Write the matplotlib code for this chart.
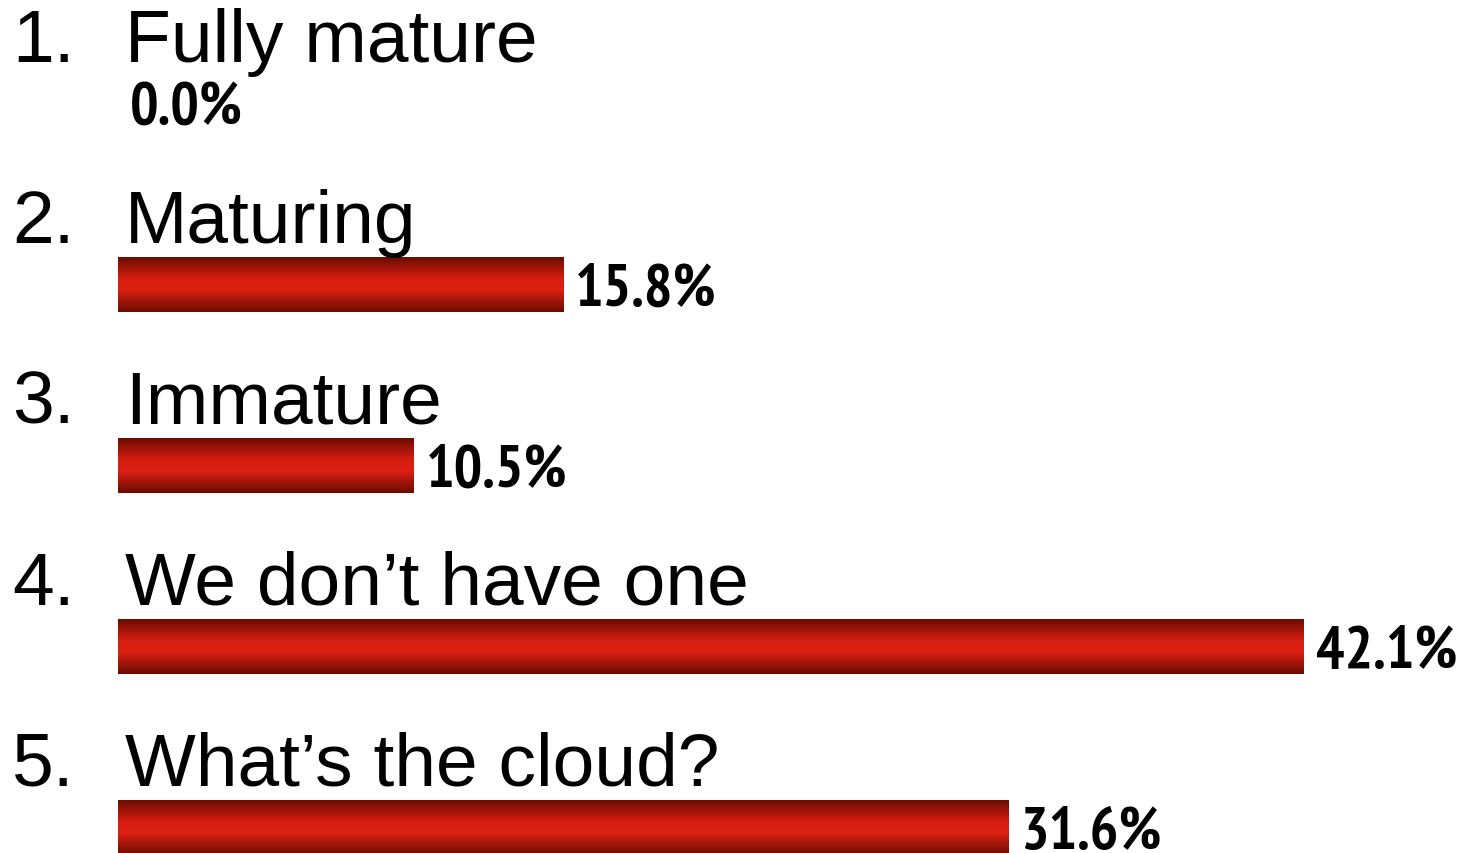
import numpy as np
import matplotlib
matplotlib.use("Agg")
import matplotlib.pyplot as plt
from matplotlib.colors import LinearSegmentedColormap
from matplotlib import font_manager

# Survey answers and their shares (percent)
categories = ["Fully mature", "Maturing", "Immature", "We don\u2019t have one", "What\u2019s the cloud?"]
numbers = ["1.", "2.", "3.", "4.", "5."]
values = [0.0, 15.8, 10.5, 42.1, 31.6]
value_labels = ["0.0%", "15.8%", "10.5%", "42.1%", "31.6%"]

W, H, DPI = 1458, 854, 100
fig = plt.figure(figsize=(W / DPI, H / DPI), dpi=DPI)
ax = fig.add_axes([0, 0, 1, 1])
ax.set_axis_off()

px_per_unit = 28.17
x0_px = 118
row_px, first_px = 181.0, 105.0

# Pick a narrow sans that has a bold face for the value labels
bold_names = {f.name for f in font_manager.fontManager.ttflist
              if isinstance(f.weight, int) and f.weight >= 700 or f.weight == "bold"}
narrow = "DejaVu Sans"
for cand in ["Archivo Narrow", "PT Sans Narrow", "Roboto Condensed",
             "Fira Sans Condensed", "Fira Sans Extra Condensed"]:
    if cand in bold_names:
        narrow = cand
        break

# Shaded red fill: dark edges, bright centre
cmap = LinearSegmentedColormap.from_list(
    "bar", ["#6a0c00", "#a11508", "#d81e10", "#dc2012", "#a11508", "#6a0c00"])
grad = np.linspace(0, 1, 256).reshape(-1, 1)

bar_h = 0.30
for i, (num, cat, v, lab) in enumerate(zip(numbers, categories, values, value_labels)):
    if v > 0:
        ax.imshow(grad, cmap=cmap, aspect="auto", interpolation="bicubic",
                  extent=[0, v, i + bar_h / 2, i - bar_h / 2], zorder=2)
    ax.text(-x0_px / px_per_unit + 12 / px_per_unit, i - 0.238, num,
            fontsize=54, family="Liberation Sans", va="baseline", ha="left")
    ax.text(7 / px_per_unit, i - 0.238, cat,
            fontsize=54, family="Liberation Sans", va="baseline", ha="left")
    ax.text(v + 12 / px_per_unit, i + 0.027, lab, fontsize=43, family=narrow,
            fontweight="bold", va="center", ha="left")

ax.set_xlim(-x0_px / px_per_unit, (W - x0_px) / px_per_unit)
ax.set_ylim((H - first_px) / row_px, -first_px / row_px)
fig.savefig("out.png", dpi=DPI, facecolor="white")
